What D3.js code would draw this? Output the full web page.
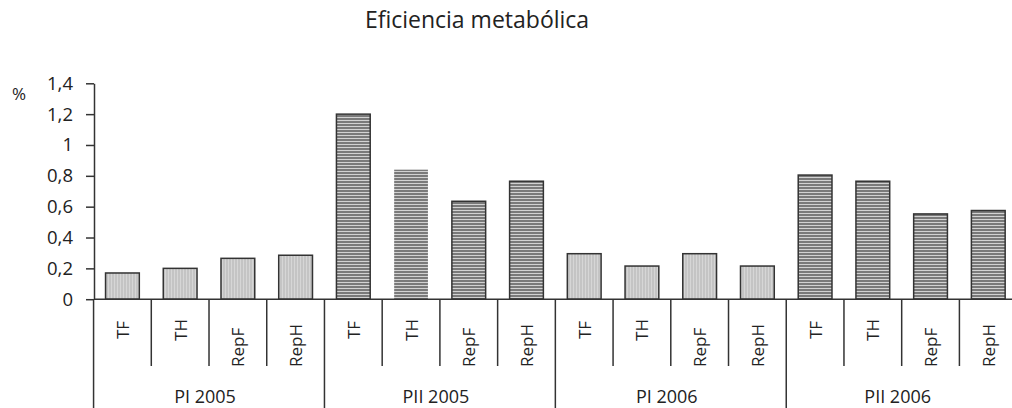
<!DOCTYPE html>
<html>
<head>
<meta charset="utf-8">
<script src="https://cdn.jsdelivr.net/npm/d3@7"></script>
<style>
  body { margin: 0; background: #fff; }
  svg { display: block; font-family: "Open Sans", "Noto Sans", sans-serif; }
</style>
</head>
<body>
<div id="chart"></div>
<script>
(function () {
    // Data
    const groups = ["PI 2005", "PII 2005", "PI 2006", "PII 2006"];
    const subCategories = ["TF", "TH", "RepF", "RepH"];
    const values = [
        [0.17, 0.20, 0.265, 0.285],
        [1.20, 0.84, 0.635, 0.765],
        [0.295, 0.215, 0.295, 0.215],
        [0.805, 0.765, 0.553, 0.575]
    ];
    const yTicks = [0, 0.2, 0.4, 0.6, 0.8, 1, 1.2, 1.4];

    const W = 1012, H = 408;
    const left = 94, right = 1016.7, top = 83.3, base = 299.2;

    const rows = [];
    groups.forEach((g, gi) => subCategories.forEach((c, ci) => {
        rows.push({ key: g + "|" + c, group: g, gi: gi, cat: c, value: values[gi][ci] });
    }));

    const svg = d3.select("#chart").append("svg")
        .attr("width", W).attr("height", H);

    const defs = svg.append("defs");
    // light gray fill with faint vertical stripes
    const pv = defs.append("pattern").attr("id", "vstripe")
        .attr("patternUnits", "userSpaceOnUse").attr("width", 3).attr("height", 3);
    pv.append("rect").attr("width", 3).attr("height", 3).attr("fill", "#c4c4c4");
    pv.append("rect").attr("width", 1).attr("height", 3).attr("fill", "#d6d6d6");
    // dark gray horizontal stripes
    const ph = defs.append("pattern").attr("id", "hstripe")
        .attr("patternUnits", "userSpaceOnUse").attr("width", 3).attr("height", 3);
    ph.append("rect").attr("width", 3).attr("height", 3).attr("fill", "#7a7a7a");
    ph.append("rect").attr("width", 3).attr("height", 1).attr("fill", "#d2d2d2");

    const x = d3.scaleBand()
        .domain(rows.map(d => d.key))
        .range([left, right])
        .paddingInner(0.415)
        .paddingOuter(0.2);

    const y = d3.scaleLinear().domain([0, 1.4]).range([base, top]);

    const locale = d3.formatLocale({ decimal: ",", thousands: ".", grouping: [3], currency: ["", ""] });
    const fmt = locale.format(".1~f");

    // Title
    svg.append("text")
        .attr("x", 477).attr("y", 28)
        .attr("text-anchor", "middle")
        .attr("font-size", 23).attr("fill", "#222")
        .text("Eficiencia metabólica");

    // Y axis
    const yAxis = svg.append("g")
        .attr("transform", `translate(${left},0)`)
        .call(d3.axisLeft(y).tickValues(yTicks).tickFormat(fmt).tickSize(8).tickPadding(13).tickSizeOuter(0));
    yAxis.selectAll("path, line").attr("stroke", "#333").attr("stroke-width", 1.5);
    yAxis.selectAll("text").attr("font-size", 18.5).attr("fill", "#222")
        .attr("font-family", "\"Open Sans\", \"Noto Sans\", sans-serif");

    svg.append("text")
        .attr("x", 12).attr("y", 100)
        .attr("font-size", 17).attr("fill", "#222")
        .text("%");

    // Bars
    svg.selectAll(".bar")
        .data(rows)
        .enter().append("rect")
        .attr("class", "bar")
        .attr("x", d => x(d.key))
        .attr("y", d => y(d.value))
        .attr("width", x.bandwidth())
        .attr("height", d => base - y(d.value))
        .attr("fill", d => d.gi % 2 === 0 ? "url(#vstripe)" : "url(#hstripe)")
        .attr("stroke", d => (d.gi === 1 && d.cat === "TH") ? "none" : "#333")
        .attr("stroke-width", 1.5);

    // X axis line
    svg.append("line")
        .attr("x1", left).attr("x2", W)
        .attr("y1", base).attr("y2", base)
        .attr("stroke", "#333").attr("stroke-width", 1.5);

    const step = x.step();
    const cellStart = d => x(d.key) - (step - x.bandwidth()) / 2;

    // Category separators (short) and group separators (long)
    svg.selectAll(".sep")
        .data(rows)
        .enter().append("line")
        .attr("class", "sep")
        .attr("x1", d => cellStart(d)).attr("x2", d => cellStart(d))
        .attr("y1", base)
        .attr("y2", d => d.cat === subCategories[0] ? H : 366)
        .attr("stroke", "#333").attr("stroke-width", 1.5);

    // Category labels (rotated)
    svg.selectAll(".cat")
        .data(rows)
        .enter().append("text")
        .attr("class", "cat")
        .attr("font-size", 17).attr("fill", "#222")
        .attr("text-anchor", d => d.cat.length > 2 ? "start" : "middle")
        .attr("transform", d => {
            const cx = cellStart(d) + step / 2 + 6.5;
            const cy = d.cat.length > 2 ? 367 : 330;
            return `translate(${cx},${cy}) rotate(-90)`;
        })
        .text(d => d.cat);

    // Group labels
    svg.selectAll(".grp")
        .data(groups)
        .enter().append("text")
        .attr("class", "grp")
        .attr("font-size", 18).attr("fill", "#222")
        .attr("text-anchor", "middle")
        .attr("x", (g, i) => {
            const first = rows[i * subCategories.length];
            return cellStart(first) + step * subCategories.length / 2 - 4;
        })
        .attr("y", 403)
        .text(g => g);
})();
</script>
</body>
</html>
